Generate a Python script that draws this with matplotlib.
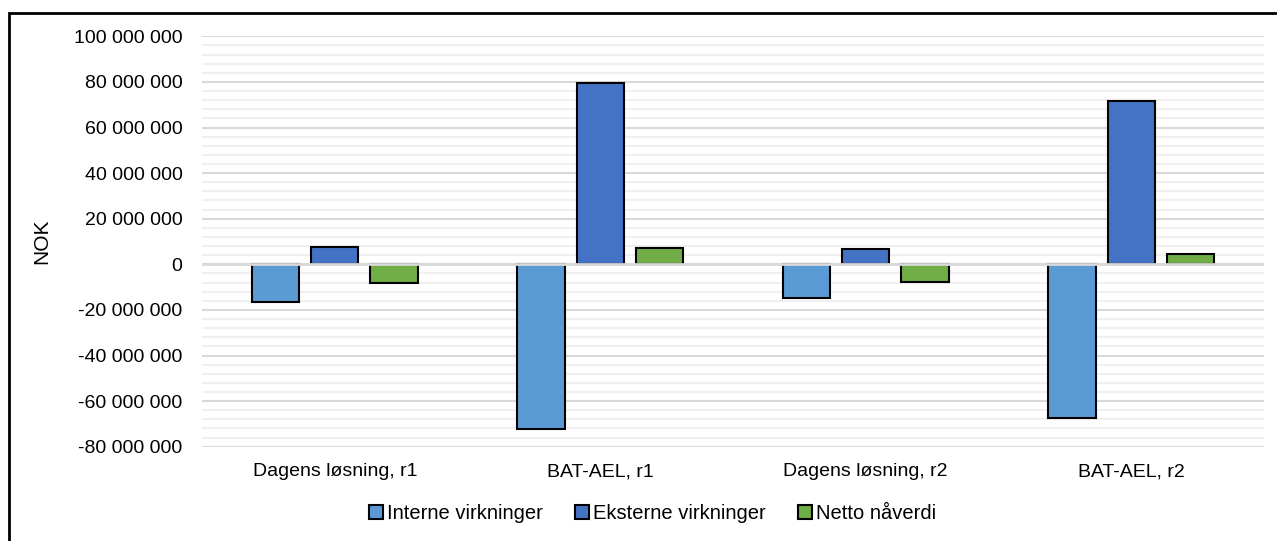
import numpy as np
import matplotlib
matplotlib.use("Agg")
import matplotlib.pyplot as plt
from matplotlib.patches import Rectangle
from matplotlib.ticker import FuncFormatter, MultipleLocator

plt.rcParams['font.family'] = ['Liberation Sans', 'DejaVu Sans']

# data (NOK)
categories = ['Dagens løsning, r1', 'BAT-AEL, r1', 'Dagens løsning, r2', 'BAT-AEL, r2']
series_names = ['Interne virkninger', 'Eksterne virkninger', 'Netto nåverdi']
interne = [-16.5e6, -72.3e6, -14.6e6, -67.4e6]
eksterne = [7.6e6, 79.6e6, 6.6e6, 71.5e6]
netto = [-8.4e6, 7.0e6, -7.8e6, 4.4e6]
colors = ['#5B9BD5', '#4472C4', '#70AD47']

fig = plt.figure(figsize=(12.77, 5.41), dpi=100)
ax = fig.add_axes([0.1582, 0.1743, 0.8316, 0.7586])

x = np.arange(len(categories))
width = 0.178
offset = 0.223
for i, (vals, name, col) in enumerate(zip([interne, eksterne, netto], series_names, colors)):
    ax.bar(x + (i - 1) * offset, vals, width, color=col, edgecolor='black',
           linewidth=1.5, label=name, zorder=3)

ax.set_xlim(-0.5, len(categories) - 0.5)
ax.set_ylim(-80e6, 100e6)
ax.yaxis.set_major_locator(MultipleLocator(20e6))
ax.yaxis.set_minor_locator(MultipleLocator(4e6))
ax.yaxis.set_major_formatter(FuncFormatter(lambda v, p: f"{v:,.0f}".replace(",", " ")))
ax.grid(axis='y', which='major', color='#d9d9d9', linewidth=1.5, zorder=0)
ax.grid(axis='y', which='minor', color='#f0f0f0', linewidth=1.5, zorder=0)
ax.axhline(0, color='#d9d9d9', linewidth=2, zorder=4)

ax.set_xticks(x)
ax.set_xticklabels(categories, fontsize=14)
ax.tick_params(axis='y', which='both', length=0, labelsize=14, pad=14)
ax.tick_params(axis='x', length=0, pad=12)
for s in ax.spines.values():
    s.set_visible(False)
ax.set_ylabel('NOK', fontsize=15, labelpad=16)

handles = [Rectangle((0, 0), 1, 1, facecolor=c, edgecolor='black', linewidth=1.5) for c in colors]
fig.legend(handles, series_names, loc='center', bbox_to_anchor=(0.511, 0.05), ncol=3,
           frameon=False, fontsize=14.5, handlelength=0.7, handleheight=0.7,
           handletextpad=0.2, columnspacing=1.6)

# outer chart border
fig.patches.append(Rectangle((9 / 1277, -0.1), 1.2, 1.1 - 13 / 541, transform=fig.transFigure,
                             fill=False, edgecolor='black', linewidth=2))

fig.savefig('out.png', dpi=100)
